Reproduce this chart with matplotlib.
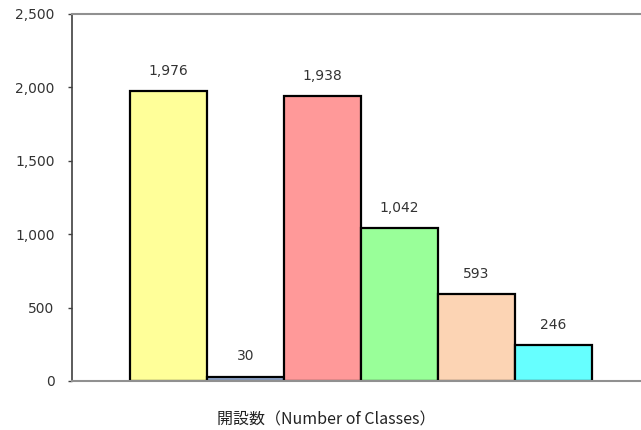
import matplotlib.pyplot as plt
from matplotlib.ticker import FuncFormatter

plt.rcParams['font.family'] = ['Noto Sans CJK JP', 'DejaVu Sans']

# number of classes per category
values = [1976, 30, 1938, 1042, 593, 246]
colors = ["#FFFF99", "#94ABD3", "#FF9999", "#99FF99", "#FCD4B4", "#66FFFF"]
xlabel = "開設数（Number of Classes）"
yticks = [0, 500, 1000, 1500, 2000, 2500]

fig = plt.figure(figsize=(6.41, 4.30), dpi=100)
ax = fig.add_axes([0.1123, 0.114, 0.8877, 0.8535])

positions = range(len(values))
ax.bar(positions, values, width=1.0, color=colors, edgecolor="black", linewidth=1.6)

for x, v in zip(positions, values):
    ax.annotate(f"{v:,}", (x, v), xytext=(0, 14.5), textcoords="offset points",
                ha="center", va="center", fontsize=10, color="#333333",
                fontfamily="DejaVu Sans")

ax.set_xlim(-1.253, 6.136)
ax.set_ylim(0, 2500)
ax.set_yticks(yticks)
ax.yaxis.set_major_formatter(FuncFormatter(lambda v, _: f"{int(v):,}"))
ax.set_xticks([])
ax.tick_params(axis="y", direction="out", length=3, width=1, colors="#404040",
               labelsize=10, labelcolor="#333333", pad=9.5)
for lbl in ax.get_yticklabels():
    lbl.set_fontfamily("DejaVu Sans")

ax.spines["right"].set_visible(False)
ax.spines["top"].set_color("#909090")
ax.spines["top"].set_linewidth(1.5)
ax.spines["bottom"].set_color("#909090")
ax.spines["bottom"].set_linewidth(1.5)
ax.spines["left"].set_color("#404040")
ax.spines["left"].set_linewidth(1.2)

ax.set_xlabel(xlabel, fontsize=11.5, color="#222222")
ax.xaxis.set_label_coords((326 - 72) / 569, -0.083)

fig.savefig("out.png", dpi=100)
